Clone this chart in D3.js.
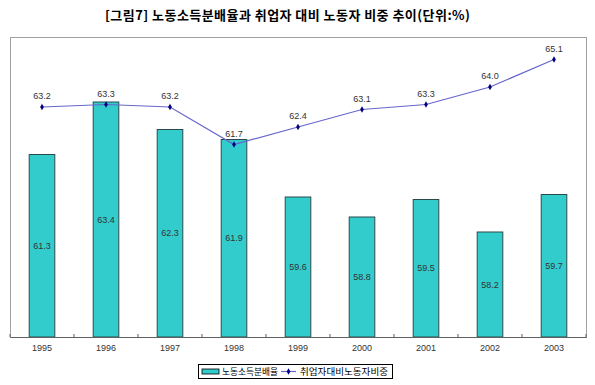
<!DOCTYPE html>
<html><head><meta charset="utf-8">
<script src="https://cdn.jsdelivr.net/npm/d3@7"></script>
<style>body{margin:0;background:#fff}svg{display:block}</style>
</head><body><svg id="c" width="595" height="385"></svg>
<script>
const years = ["1995","1996","1997","1998","1999","2000","2001","2002","2003"];
const laborShare = [61.3,63.4,62.3,61.9,59.6,58.8,59.5,58.2,59.7];
const employeeRatio = [63.2,63.3,63.2,61.7,62.4,63.1,63.3,64.0,65.1];
const seriesNames = ["노동소득분배율","취업자대비노동자비중"];
const titleText = "[그림7] 노동소득분배율과 취업자 대비 노동자 비중 추이(단위:%)";
const yDomain = [54,66];

const svg = d3.select("#c");
const L=10,R=586,T=37,B=337;
const x = d3.scaleBand().domain(years).range([L,R]).paddingInner(0.6).paddingOuter(0.3);
const xc = d => x(d)+x.bandwidth()/2;
const y = d3.scaleLinear().domain(yDomain).range([B,T]);
const kfont = "'Noto Sans CJK KR', sans-serif";
const lfont = "'Liberation Sans', Arial, sans-serif";

svg.append("text").attr("x",105).attr("y",20).attr("text-anchor","start")
  .attr("font-family",kfont).attr("font-weight","bold").attr("font-size",13).attr("fill","#000")
  .attr("textLength",365).attr("lengthAdjust","spacing").text(titleText);

// plot border
svg.append("rect").attr("x",L).attr("y",T).attr("width",R-L).attr("height",B-T)
  .attr("fill","none").attr("stroke","#a0a0a0").attr("stroke-width",1).attr("shape-rendering","crispEdges");

// bars
svg.selectAll("rect.bar").data(laborShare).enter().append("rect").attr("class","bar")
  .attr("x",(d,i)=>x(years[i])).attr("width",x.bandwidth())
  .attr("y",d=>y(d)).attr("height",d=>B-y(d))
  .attr("fill","#33CCCC").attr("stroke","#2a4a4a").attr("stroke-width",1);

// x axis
const ax = d3.axisBottom(x).tickSize(0).tickPadding(8);
const g = svg.append("g").attr("transform",`translate(0,${B})`).call(ax);
g.select(".domain").attr("stroke","#606060");
g.selectAll("text").attr("font-family",lfont).attr("font-size",9).attr("fill","#333");
// tick marks at category boundaries
const bounds = years.map((d,i)=>L+i*(R-L)/years.length).concat([R]);
svg.selectAll("line.tk").data(bounds).enter().append("line")
  .attr("x1",d=>d).attr("x2",d=>d).attr("y1",B-3).attr("y2",B).attr("stroke","#606060");

// bar labels
svg.selectAll("text.bl").data(laborShare).enter().append("text")
  .attr("x",(d,i)=>xc(years[i])).attr("y",d=>(y(d)+B)/2+3)
  .attr("text-anchor","middle").attr("font-family",lfont).attr("font-size",9).attr("fill","#333")
  .text(d=>d.toFixed(1));

// line
const line = d3.line().x((d,i)=>xc(years[i])).y(d=>y(d));
svg.append("path").datum(employeeRatio).attr("d",line).attr("fill","none")
  .attr("stroke","#6666CC").attr("stroke-width",1.2);
const diamond = d3.symbol().type(d3.symbolDiamond).size(12);
svg.selectAll("path.mk").data(employeeRatio).enter().append("path")
  .attr("transform",(d,i)=>`translate(${xc(years[i])},${y(d)})`).attr("d",diamond).attr("fill","#000080");
svg.selectAll("text.ll").data(employeeRatio).enter().append("text")
  .attr("x",(d,i)=>xc(years[i])).attr("y",d=>y(d)-8)
  .attr("text-anchor","middle").attr("font-family",lfont).attr("font-size",9).attr("fill","#333")
  .text(d=>d.toFixed(1));

// legend
const lg = svg.append("g");
lg.append("rect").attr("x",198.5).attr("y",364.5).attr("width",194).attr("height",14)
  .attr("fill","#fff").attr("stroke","#000");
lg.append("rect").attr("x",202).attr("y",369).attr("width",17).attr("height",5)
  .attr("fill","#33CCCC").attr("stroke","#000").attr("stroke-width",0.8);
lg.append("text").attr("x",222).attr("y",375).attr("font-family",kfont).attr("font-size",9)
  .attr("textLength",56).attr("lengthAdjust","spacingAndGlyphs").text(seriesNames[0]);
lg.append("line").attr("x1",281).attr("x2",296).attr("y1",371.5).attr("y2",371.5).attr("stroke","#6666CC").attr("stroke-width",1.2);
lg.append("path").attr("transform","translate(288.5,371.5)").attr("d",diamond).attr("fill","#000080");
lg.append("text").attr("x",300).attr("y",375).attr("font-family",kfont).attr("font-size",9)
  .attr("textLength",88).attr("lengthAdjust","spacingAndGlyphs").text(seriesNames[1]);
</script></body></html>
